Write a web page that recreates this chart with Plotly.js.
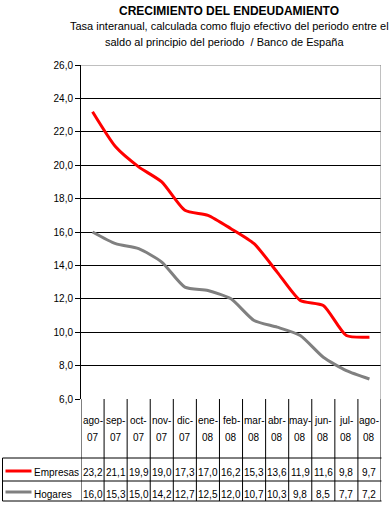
<!DOCTYPE html>
<html><head><meta charset="utf-8">
<script src="https://cdn.plot.ly/plotly-3.0.1.min.js"></script>
<style>html,body{margin:0;padding:0;background:#fff}#c{width:391px;height:506px}</style>
</head><body><div id="c"></div>
<script>
const categories = ['ago-07','sep-07','oct-07','nov-07','dic-07','ene-08','feb-08','mar-08','abr-08','may-08','jun-08','jul-08','ago-08'];
const empresas = [23.2,21.1,19.9,19.0,17.3,17.0,16.2,15.3,13.6,11.9,11.6,9.8,9.7];
const hogares  = [16.0,15.3,15.0,14.2,12.7,12.5,12.0,10.7,10.3,9.8,8.5,7.7,7.2];
const seriesNames = ['Empresas','Hogares'];
const yTicks = [6,8,10,12,14,16,18,20,22,24,26];

const W = 391, H = 506;
const FONT = 'Liberation Sans, Arial, sans-serif';
const px = x => x / W;
const py = y => 1 - y / H;
const fmt = v => v.toFixed(1).replace('.', ',');
const idx = categories.map((_, i) => i);

const plotTop = 65, plotBot = 399, plotLeft = 81, plotRight = 381;
const rowTops = [458, 481, 501];
const rowCenters = [472.5, 494];
const keyY = [471, 492];
const colors = ['#FF0000', '#808080'];
const series = [empresas, hogares];

const traces = series.map((s, k) => ({
  x: idx, y: s, type: 'scatter', mode: 'lines', name: seriesNames[k],
  line: {color: colors[k], width: 3, shape: 'spline', smoothing: 0.6},
  hoverinfo: 'skip', cliponaxis: false
}));

const shapes = [];
const annotations = [];
shapes.push({type:'line', xref:'x', yref:'y', x0:-0.5, x1:12.5, y0:26, y1:26, line:{color:'#808080', width:1}});
shapes.push({type:'line', xref:'x', yref:'y', x0:12.5, x1:12.5, y0:6, y1:26, line:{color:'#808080', width:1}});
for (let i = 0; i <= categories.length; i++) {
  shapes.push({type:'line', xref:'x', yref:'paper', x0:i-0.5, x1:i-0.5, y0:py(plotBot), y1:py(rowTops[2]), line:{color:'#000', width:1}});
}
rowTops.forEach(y => shapes.push({type:'line', xref:'paper', yref:'paper', x0:px(2.5), x1:px(plotRight+0.5), y0:py(y), y1:py(y), line:{color:'#000', width:1}}));
shapes.push({type:'line', xref:'paper', yref:'paper', x0:px(2.5), x1:px(2.5), y0:py(rowTops[0]), y1:py(rowTops[2]), line:{color:'#000', width:1}});
series.forEach((s, k) => {
  shapes.push({type:'line', xref:'paper', yref:'paper', x0:px(5.5), x1:px(31.5), y0:py(keyY[k]), y1:py(keyY[k]), line:{color:colors[k], width:3}});
  annotations.push({xref:'paper', yref:'paper', x:px(32), y:py(rowCenters[k]), xanchor:'left', yanchor:'middle', text:seriesNames[k], showarrow:false, font:{family:FONT, size:10, color:'#000'}});
  s.forEach((v, i) => annotations.push({xref:'x', yref:'paper', x:i, y:py(rowCenters[k]), xanchor:'center', yanchor:'middle', text:fmt(v), showarrow:false, font:{family:FONT, size:10, color:'#000'}}));
});
categories.forEach((c, i) => {
  const parts = c.split('-');
  annotations.push({xref:'x', yref:'paper', x:i, y:py(420), xanchor:'center', yanchor:'middle', text:parts[0] + '-', showarrow:false, font:{family:FONT, size:10, color:'#000'}});
  annotations.push({xref:'x', yref:'paper', x:i, y:py(437), xanchor:'center', yanchor:'middle', text:parts[1], showarrow:false, font:{family:FONT, size:10, color:'#000'}});
});
annotations.push({xref:'paper', yref:'paper', x:px(229), y:py(11), xanchor:'center', yanchor:'middle', text:'<b>CRECIMIENTO DEL ENDEUDAMIENTO</b>', showarrow:false, font:{family:FONT, size:12, color:'#000'}});
annotations.push({xref:'paper', yref:'paper', x:px(229), y:py(26), xanchor:'center', yanchor:'middle', text:'Tasa interanual, calculada como flujo efectivo del periodo entre el', showarrow:false, font:{family:FONT, size:11, color:'#000'}});
annotations.push({xref:'paper', yref:'paper', x:px(224), y:py(42.5), xanchor:'center', yanchor:'middle', text:'saldo al principio del periodo  / Banco de España', showarrow:false, font:{family:FONT, size:11, color:'#000'}});

const layout = {
  width: W, height: H, margin: {l:0, r:0, t:0, b:0},
  paper_bgcolor: '#fff', plot_bgcolor: '#fff',
  separators: ',.', showlegend: false,
  font: {family: FONT, size: 10, color: '#000'},
  xaxis: {domain:[px(plotLeft), px(plotRight)], range:[-0.5, 12.5], showgrid:false, zeroline:false, showline:false, showticklabels:false, ticks:'', fixedrange:true},
  yaxis: {domain:[py(plotBot), py(plotTop)], range:[6, 26], tickvals:yTicks, tickformat:'.1f', showgrid:true, gridcolor:'#000', gridwidth:1,
          zeroline:false, showline:true, linecolor:'#000', linewidth:1, ticks:'outside', ticklen:5, tickcolor:'#000', tickwidth:1,
          tickfont:{family:FONT, size:10, color:'#000'}, fixedrange:true},
  shapes, annotations
};
Plotly.newPlot('c', traces, layout, {staticPlot:true, displayModeBar:false});
</script></body></html>
